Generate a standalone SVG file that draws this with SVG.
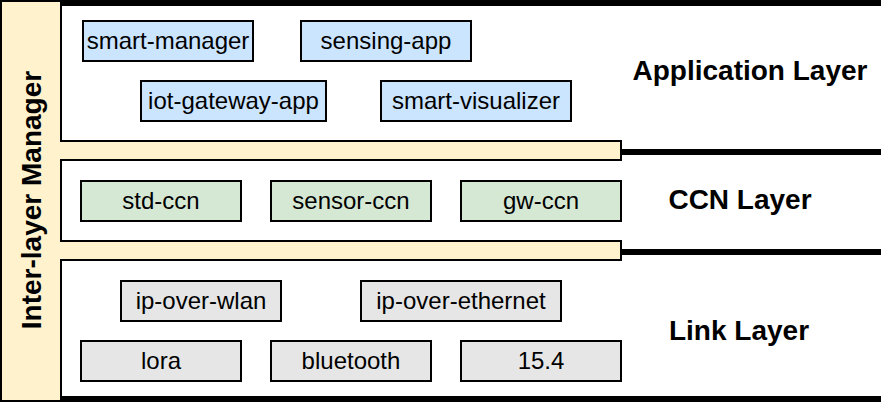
<svg xmlns="http://www.w3.org/2000/svg" width="886" height="404" viewBox="0 0 886 404">
<style>
  .box { stroke: #000; stroke-width: 2; }
  .app { fill: #cce5ff; }
  .ccn { fill: #d5e8d4; }
  .link { fill: #e6e6e6; }
  .t { font-family: "Liberation Sans", Arial, Helvetica, sans-serif; font-size: 24px; fill: #000; text-anchor: middle; }
  .b { font-family: "Liberation Sans", Arial, Helvetica, sans-serif; font-size: 28px; font-weight: bold; fill: #000; text-anchor: middle; }
</style>
<rect x="0" y="0" width="886" height="404" fill="#fff"/>
<g id="inter-layer-manager">
  <path d="M1,1 H61 V141 H621 V160 H61 V241 H621 V260 H61 V401 H1 Z" fill="#fff2cc" stroke="#000" stroke-width="2"/>
  <text class="b" transform="translate(41,200) rotate(-90)">Inter-layer Manager</text>
</g>
<g id="separators" fill="#000">
  <rect x="61" y="0" width="820" height="6"/>
  <rect x="621" y="149" width="260" height="6"/>
  <rect x="621" y="249" width="260" height="6"/>
  <rect x="61" y="396" width="820" height="6"/>
</g>
<g id="layer-labels">
  <text class="b" x="750" y="80">Application Layer</text>
  <text class="b" x="740" y="209">CCN Layer</text>
  <text class="b" x="739" y="340">Link Layer</text>
</g>
<g id="smart-manager"><rect class="box app" x="83" y="21" width="170" height="40"/><text class="t" x="168" y="49">smart-manager</text></g>
<g id="sensing-app"><rect class="box app" x="301" y="21" width="170" height="40"/><text class="t" x="386" y="49">sensing-app</text></g>
<g id="iot-gateway-app"><rect class="box app" x="141" y="81" width="185" height="40"/><text class="t" x="233.5" y="109">iot-gateway-app</text></g>
<g id="smart-visualizer"><rect class="box app" x="381" y="81" width="190" height="40"/><text class="t" x="476" y="109">smart-visualizer</text></g>
<g id="std-ccn"><rect class="box ccn" x="81" y="181" width="160" height="40"/><text class="t" x="161" y="209">std-ccn</text></g>
<g id="sensor-ccn"><rect class="box ccn" x="271" y="181" width="160" height="40"/><text class="t" x="351" y="209">sensor-ccn</text></g>
<g id="gw-ccn"><rect class="box ccn" x="461" y="181" width="160" height="40"/><text class="t" x="541" y="209">gw-ccn</text></g>
<g id="ip-over-wlan"><rect class="box link" x="121" y="281" width="160" height="40"/><text class="t" x="201" y="309">ip-over-wlan</text></g>
<g id="ip-over-ethernet"><rect class="box link" x="361" y="281" width="200" height="40"/><text class="t" x="461" y="309">ip-over-ethernet</text></g>
<g id="lora"><rect class="box link" x="81" y="341" width="160" height="40"/><text class="t" x="161" y="369">lora</text></g>
<g id="bluetooth"><rect class="box link" x="271" y="341" width="160" height="40"/><text class="t" x="351" y="369">bluetooth</text></g>
<g id="n15-4"><rect class="box link" x="461" y="341" width="160" height="40"/><text class="t" x="541" y="369">15.4</text></g>
</svg>
